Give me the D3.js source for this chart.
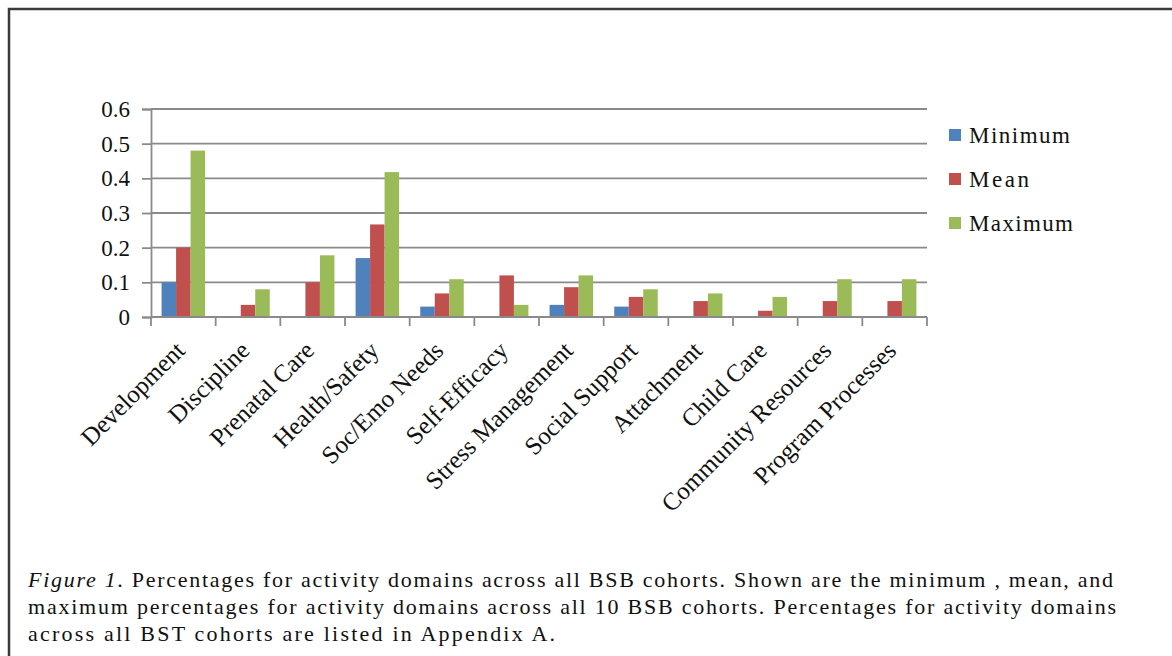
<!DOCTYPE html>
<html>
<head>
<meta charset="utf-8">
<script src="https://cdn.jsdelivr.net/npm/d3@7/dist/d3.min.js"></script>
<style>
  html, body { margin: 0; padding: 0; background: #fff; }
  svg { display: block; }
  text { font-family: "Liberation Serif", "Times New Roman", serif; fill: #111; }
</style>
</head>
<body>
<svg id="chart" width="1172" height="656"></svg>
<script>
// Activity domains and their share of activities across cohorts
const categories = [
  "Development", "Discipline", "Prenatal Care", "Health/Safety", "Soc/Emo Needs",
  "Self-Efficacy", "Stress Management", "Social Support", "Attachment",
  "Child Care", "Community Resources", "Program Processes"
];
const seriesNames = ["Minimum", "Mean", "Maximum"];
const minimum = [0.10, 0, 0, 0.17, 0.03, 0, 0.035, 0.03, 0, 0, 0, 0];
const mean    = [0.20, 0.035, 0.10, 0.267, 0.068, 0.12, 0.086, 0.058, 0.046, 0.018, 0.046, 0.046];
const maximum = [0.48, 0.08, 0.178, 0.418, 0.109, 0.035, 0.12, 0.08, 0.068, 0.058, 0.109, 0.109];
const yTicks = [0, 0.1, 0.2, 0.3, 0.4, 0.5, 0.6];
const colors = ["#4F81BD", "#C0504D", "#9BBB59"];
const captionLines = [
  [{ t: "Figure 1", i: true }, { t: ". Percentages for activity domains across all BSB  cohorts. Shown are the minimum , mean, and" }],
  [{ t: "maximum percentages for activity domains across all 10 BSB cohorts. Percentages for activity domains" }],
  [{ t: "across all BST cohorts are listed in Appendix A." }]
];

const seriesValues = [minimum, mean, maximum];
const svg = d3.select("#chart");

// outer frame
svg.append("path")
  .attr("d", "M9,700 L9,9 L1200,9")
  .attr("fill", "none").attr("stroke", "#3a3a3a").attr("stroke-width", 2.5);

const plot = { left: 151, right: 927, top: 109, bottom: 317 };

const x = d3.scaleBand().domain(categories).range([plot.left, plot.right]).padding(0);
const x1 = d3.scaleBand().domain(seriesNames).range([0, x.bandwidth()])
  .paddingInner(0).paddingOuter(0.73);
const y = d3.scaleLinear().domain([0, 0.6]).range([plot.bottom, plot.top]);

// horizontal gridlines
svg.append("g").selectAll("line").data(yTicks.slice(1)).join("line")
  .attr("x1", plot.left).attr("x2", plot.right)
  .attr("y1", d => y(d)).attr("y2", d => y(d))
  .attr("stroke", "#8a8a8a").attr("stroke-width", 1.8);

// bars
const groups = svg.append("g").selectAll("g").data(categories).join("g")
  .attr("transform", c => `translate(${x(c)},0)`);
groups.selectAll("rect")
  .data((c, ci) => seriesNames.map((s, si) => ({ s, si, v: seriesValues[si][ci] })))
  .join("rect")
  .filter(d => d.v > 0)
  .attr("x", d => x1(d.s))
  .attr("width", x1.bandwidth())
  .attr("y", d => y(d.v))
  .attr("height", d => y(0) - y(d.v))
  .attr("fill", d => colors[d.si]);

// y axis
const yAxis = svg.append("g").attr("transform", `translate(${plot.left},0)`)
  .call(d3.axisLeft(y).tickValues(yTicks).tickSize(9).tickPadding(12)
    .tickFormat(d => d === 0 ? "0" : d3.format(".1f")(d)));
yAxis.select(".domain").attr("stroke", "#8a8a8a").attr("stroke-width", 1.8);
yAxis.selectAll(".tick line").attr("stroke", "#8a8a8a").attr("stroke-width", 1.8);
yAxis.selectAll(".tick text")
  .attr("font-family", "Liberation Serif, serif").attr("font-size", 23).attr("fill", "#111");

// x axis line and category ticks
const boundaries = categories.map(c => x(c)).concat([plot.right]);
svg.append("line")
  .attr("x1", plot.left).attr("x2", plot.right)
  .attr("y1", plot.bottom).attr("y2", plot.bottom)
  .attr("stroke", "#8a8a8a").attr("stroke-width", 1.8);
svg.append("g").selectAll("line").data(boundaries).join("line")
  .attr("x1", d => d).attr("x2", d => d)
  .attr("y1", plot.bottom).attr("y2", plot.bottom + 9)
  .attr("stroke", "#8a8a8a").attr("stroke-width", 1.8);

// rotated category labels
svg.append("g").selectAll("text").data(categories).join("text")
  .attr("transform", c => `translate(${x(c) + x.bandwidth() / 2 + 3},${plot.bottom + 35}) rotate(-45)`)
  .attr("text-anchor", "end")
  .attr("font-size", 25)
  .text(c => c);

// legend
const legendW = [101, 60, 104];
const legend = svg.append("g").selectAll("g").data(seriesNames).join("g")
  .attr("transform", (d, i) => `translate(949,${135 + i * 44})`);
legend.append("rect")
  .attr("x", 0).attr("y", -6).attr("width", 12).attr("height", 12)
  .attr("fill", (d, i) => colors[i]);
legend.append("text")
  .attr("x", 20).attr("y", 8)
  .attr("font-size", 23)
  .attr("textLength", (d, i) => legendW[i]).attr("lengthAdjust", "spacing")
  .text(d => d);

// caption
const capWidths = [1085, 1088, 527];
const cap = svg.append("g").selectAll("text").data(captionLines).join("text")
  .attr("x", 28).attr("y", (d, i) => 587 + i * 27)
  .attr("font-size", 22)
  .attr("textLength", (d, i) => capWidths[i]).attr("lengthAdjust", "spacing");
cap.selectAll("tspan").data(d => d).join("tspan")
  .attr("font-style", d => d.i ? "italic" : "normal")
  .text(d => d.t);
</script>
</body>
</html>
